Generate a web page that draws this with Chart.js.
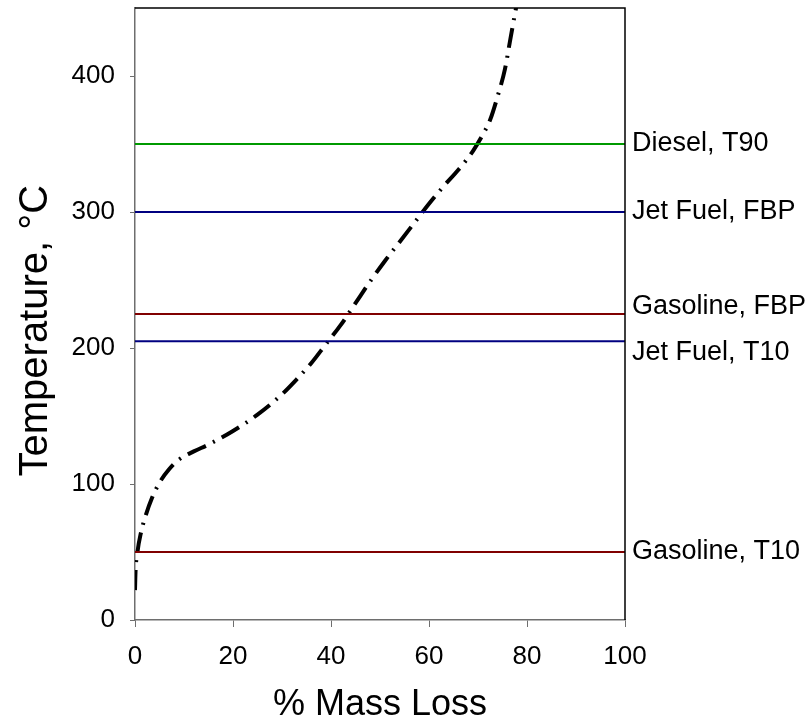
<!DOCTYPE html>
<html>
<head>
<meta charset="utf-8">
<script src="https://cdn.jsdelivr.net/npm/chart.js@4/dist/chart.umd.min.js"></script>
<style>
  html, body { margin: 0; padding: 0; background: #fff; }
  #wrap { width: 807px; height: 723px; }
</style>
</head>
<body>
<div id="wrap"><canvas id="chart" width="807" height="723"></canvas></div>
<script>
// distillation curve (% mass loss vs temperature)
const MASS_LOSS = [0, 0.1, 0.5, 1.2, 2.2, 3.5, 5, 7, 9, 12, 15, 20, 25, 30, 33, 36, 39, 42, 45, 48, 51, 54, 57, 60, 63, 66, 69, 71, 72.5, 74, 75.5, 76.5, 77.5, 78.3];
const TEMPERATURE = [22, 35, 50, 64, 77, 90, 101, 111, 118, 124, 129, 139, 151, 166, 177, 189, 203, 217, 233, 249, 264, 278, 292, 306, 319, 331, 345, 357, 368, 385, 405, 425, 445, 460];

// fuel spec limits
const LIMIT_NAMES = ['Diesel, T90', 'Jet Fuel, FBP', 'Gasoline, FBP', 'Jet Fuel, T10', 'Gasoline, T10'];
const LIMIT_TEMPS = [350, 300, 225, 205, 50];
const LIMIT_COLORS = ['#009a00', '#000080', '#800000', '#000080', '#800000'];

const X_TICKS = [0, 20, 40, 60, 80, 100];
const Y_TICKS = [0, 100, 200, 300, 400];

const FONT = '"Liberation Sans", Arial, sans-serif';
const AXIS_GRAY = '#6e6e6e';

const curveData = MASS_LOSS.map((x, i) => ({ x, y: TEMPERATURE[i] }));

const limitDatasets = LIMIT_TEMPS.map((t, i) => ({
  label: LIMIT_NAMES[i],
  data: [{ x: 0, y: t }, { x: 100, y: t }],
  borderColor: LIMIT_COLORS[i],
  borderWidth: 2,
  pointRadius: 0,
  showLine: true,
}));

// nudge the two close labels apart, like the original
const LABEL_NUDGE = { 'Gasoline, FBP': -7, 'Jet Fuel, T10': 11 };

const limitLabels = {
  id: 'limitLabels',
  afterDraw(chart) {
    const { ctx, chartArea, scales } = chart;
    ctx.save();
    ctx.font = '27px ' + FONT;
    ctx.fillStyle = '#000';
    ctx.textAlign = 'left';
    ctx.textBaseline = 'middle';
    LIMIT_NAMES.forEach((name, i) => {
      const y = scales.y.getPixelForValue(LIMIT_TEMPS[i]) + (LABEL_NUDGE[name] || 0);
      ctx.fillText(name, chartArea.right + 7, y);
    });
    ctx.restore();
  },
};

const frame = {
  id: 'frame',
  afterDatasetsDraw(chart) {
    const { ctx, chartArea: a } = chart;
    ctx.save();
    ctx.strokeStyle = '#000';
    ctx.lineWidth = 1.5;
    ctx.beginPath();
    ctx.moveTo(a.left, a.top);
    ctx.lineTo(a.right, a.top);
    ctx.lineTo(a.right, a.bottom);
    ctx.stroke();
    ctx.restore();
  },
};

new Chart(document.getElementById('chart'), {
  type: 'line',
  data: {
    datasets: [
      ...limitDatasets,
      {
        label: 'Mass loss',
        data: curveData,
        borderColor: '#000',
        borderWidth: 4,
        borderDash: [20, 8, 2, 8],
        pointRadius: 0,
        cubicInterpolationMode: 'monotone',
        showLine: true,
      },
    ],
  },
  options: {
    responsive: false,
    animation: false,
    devicePixelRatio: 1,
    layout: { padding: { left: 0, top: 8, right: 182, bottom: 0 } },
    plugins: { legend: { display: false }, tooltip: { enabled: false } },
    scales: {
      x: {
        type: 'linear',
        min: 0,
        max: 100,
        afterBuildTicks: (s) => { s.ticks = X_TICKS.map((v) => ({ value: v })); },
        afterFit: (s) => { s.height = 103; s.paddingLeft = 0; s.paddingRight = 0; },
        ticks: { color: '#000', font: { family: FONT, size: 26 }, padding: 14, maxRotation: 0 },
        grid: { drawOnChartArea: false, tickLength: 7, color: AXIS_GRAY },
        border: { color: AXIS_GRAY, width: 1.5 },
        title: {
          display: true,
          text: '% Mass Loss',
          color: '#000',
          font: { family: FONT, size: 36, lineHeight: 1 },
          padding: 0,
        },
      },
      y: {
        type: 'linear',
        min: 0,
        max: 450,
        afterBuildTicks: (s) => { s.ticks = Y_TICKS.map((v) => ({ value: v })); },
        afterFit: (s) => { s.width = 135; s.paddingTop = 0; s.paddingBottom = 0; },
        ticks: { color: '#000', font: { family: FONT, size: 26 }, padding: 15 },
        grid: { drawOnChartArea: false, tickLength: 5, color: AXIS_GRAY },
        border: { color: AXIS_GRAY, width: 1.5 },
        title: {
          display: true,
          // trailing spaces push the centred title a little lower, as in the original
          text: 'Temperature, °C   ',
          color: '#000',
          font: { family: FONT, size: 40, lineHeight: 1 },
          padding: { top: 16, bottom: 0 },
        },
      },
    },
  },
  plugins: [frame, limitLabels],
});
</script>
</body>
</html>
